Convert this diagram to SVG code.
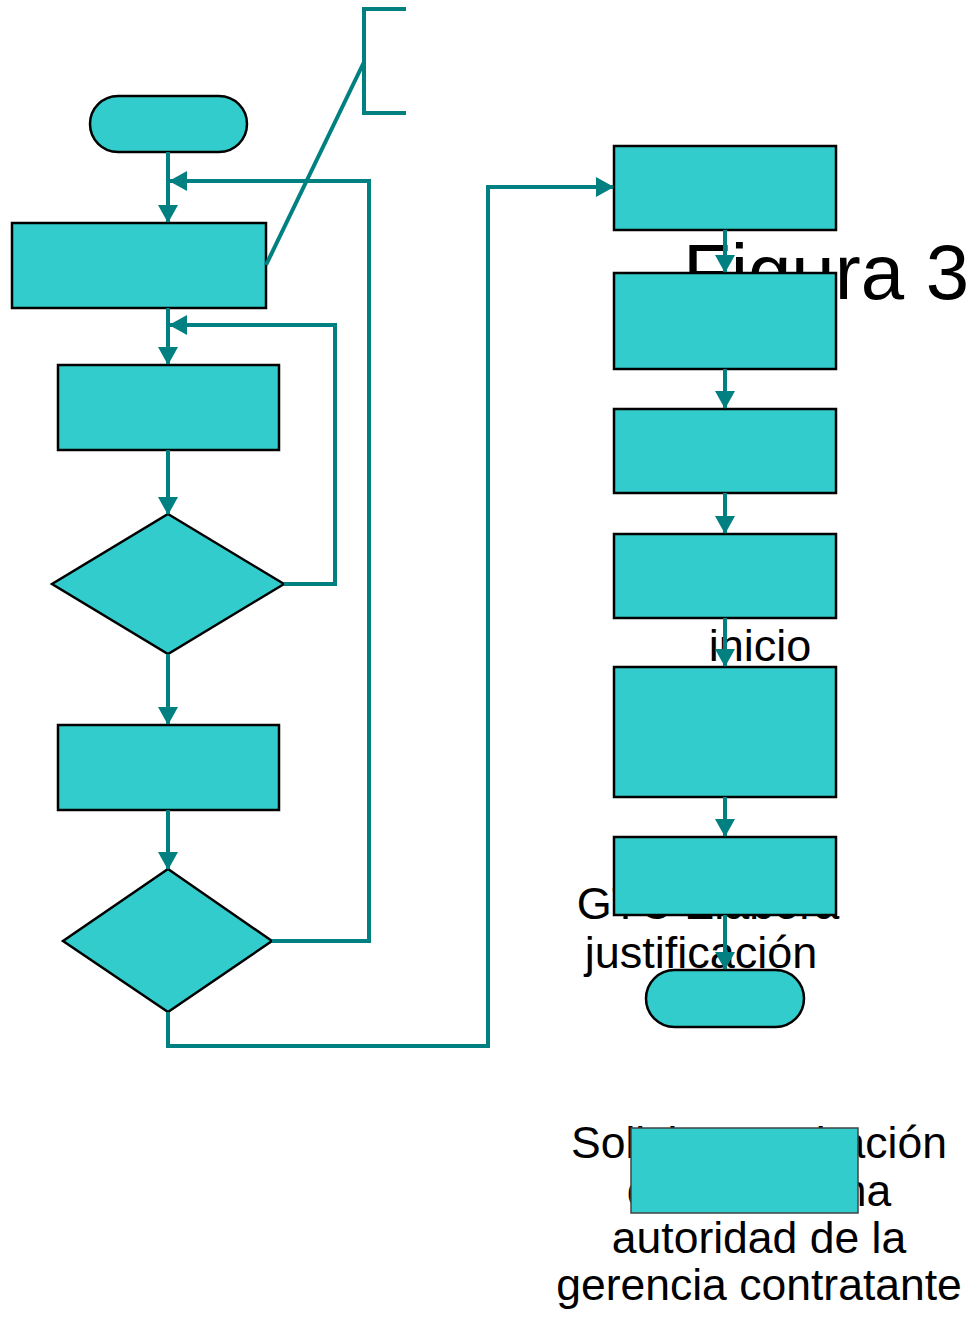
<svg xmlns="http://www.w3.org/2000/svg" width="971" height="1320" viewBox="0 0 971 1320">
<style>
.n{fill:#33CCCC;stroke:#000;stroke-width:2.5}
.c{fill:none;stroke:#008080;stroke-width:4;stroke-linejoin:miter}
.t{font-family:"Liberation Sans",Arial,sans-serif;fill:#000}
</style>
<defs>
<marker id="ah" viewBox="0 0 18 20" refX="17" refY="10" markerWidth="18" markerHeight="20" markerUnits="userSpaceOnUse" orient="auto">
<path d="M0,0 L18,10 L0,20 z" fill="#008080"/>
</marker>
</defs>
<rect width="971" height="1320" fill="#fff"/>
<g id="texts">
<text class="t" x="683" y="299" font-size="78">Figura 3</text>
<text class="t" x="760" y="661" font-size="45" text-anchor="middle">inicio</text>
<text class="t" x="708" y="919" font-size="45" text-anchor="middle">GTC Elabora</text>
<text class="t" x="701" y="968" font-size="45" text-anchor="middle">justificación</text>
<text class="t" font-size="44.5" text-anchor="middle"><tspan x="759" y="1158">Solicita aprobación</tspan><tspan x="759" y="1206">de la máxima</tspan><tspan x="759" y="1253">autoridad de la</tspan><tspan x="759" y="1300">gerencia contratante</tspan></text>
</g>
<g id="start"><rect class="n" x="90" y="96" width="157" height="56" rx="28"/></g>
<g id="box1"><rect class="n" x="12" y="223" width="254" height="85"/></g>
<g id="box2"><rect class="n" x="58" y="365" width="221" height="85"/></g>
<g id="dec1"><polygon class="n" points="168,514 284,584 168,654 52,584"/></g>
<g id="box3"><rect class="n" x="58" y="725" width="221" height="85"/></g>
<g id="dec2"><polygon class="n" points="168,869 272,941 168,1012 63,941"/></g>
<g id="r1"><rect class="n" x="614" y="146" width="222" height="84"/></g>
<g id="r2"><rect class="n" x="614" y="273" width="222" height="96"/></g>
<g id="r3"><rect class="n" x="614" y="409" width="222" height="84"/></g>
<g id="r4"><rect class="n" x="614" y="534" width="222" height="84"/></g>
<g id="r5"><rect class="n" x="614" y="667" width="222" height="130"/></g>
<g id="r6"><rect class="n" x="614" y="837" width="222" height="78"/></g>
<g id="end"><rect class="n" x="646" y="970" width="158" height="57" rx="28.5"/></g>
<g id="box4"><rect x="631" y="1128" width="227" height="85" fill="#33CCCC" stroke="#444" stroke-width="1.5"/></g>
<g id="connectors">
<path class="c" d="M168,152 V222" marker-end="url(#ah)"/>
<path class="c" d="M272,941 H369 V181 H170" marker-end="url(#ah)"/>
<path class="c" d="M168,308 V364" marker-end="url(#ah)"/>
<path class="c" d="M284,584 H335 V325 H170" marker-end="url(#ah)"/>
<path class="c" d="M168,450 V514" marker-end="url(#ah)"/>
<path class="c" d="M168,654 V724" marker-end="url(#ah)"/>
<path class="c" d="M168,810 V869" marker-end="url(#ah)"/>
<path class="c" d="M168,1012 V1046 H488 V187 H613" marker-end="url(#ah)"/>
<path class="c" d="M725,230 V272" marker-end="url(#ah)"/>
<path class="c" d="M725,369 V408" marker-end="url(#ah)"/>
<path class="c" d="M725,493 V533" marker-end="url(#ah)"/>
<path class="c" d="M725,618 V666" marker-end="url(#ah)"/>
<path class="c" d="M725,797 V836" marker-end="url(#ah)"/>
<path class="c" d="M725,915 V969" marker-end="url(#ah)"/>
<path class="c" d="M266,265 L364,62"/>
<path class="c" d="M406,9 H364 V113 H406"/>
</g>
</svg>
